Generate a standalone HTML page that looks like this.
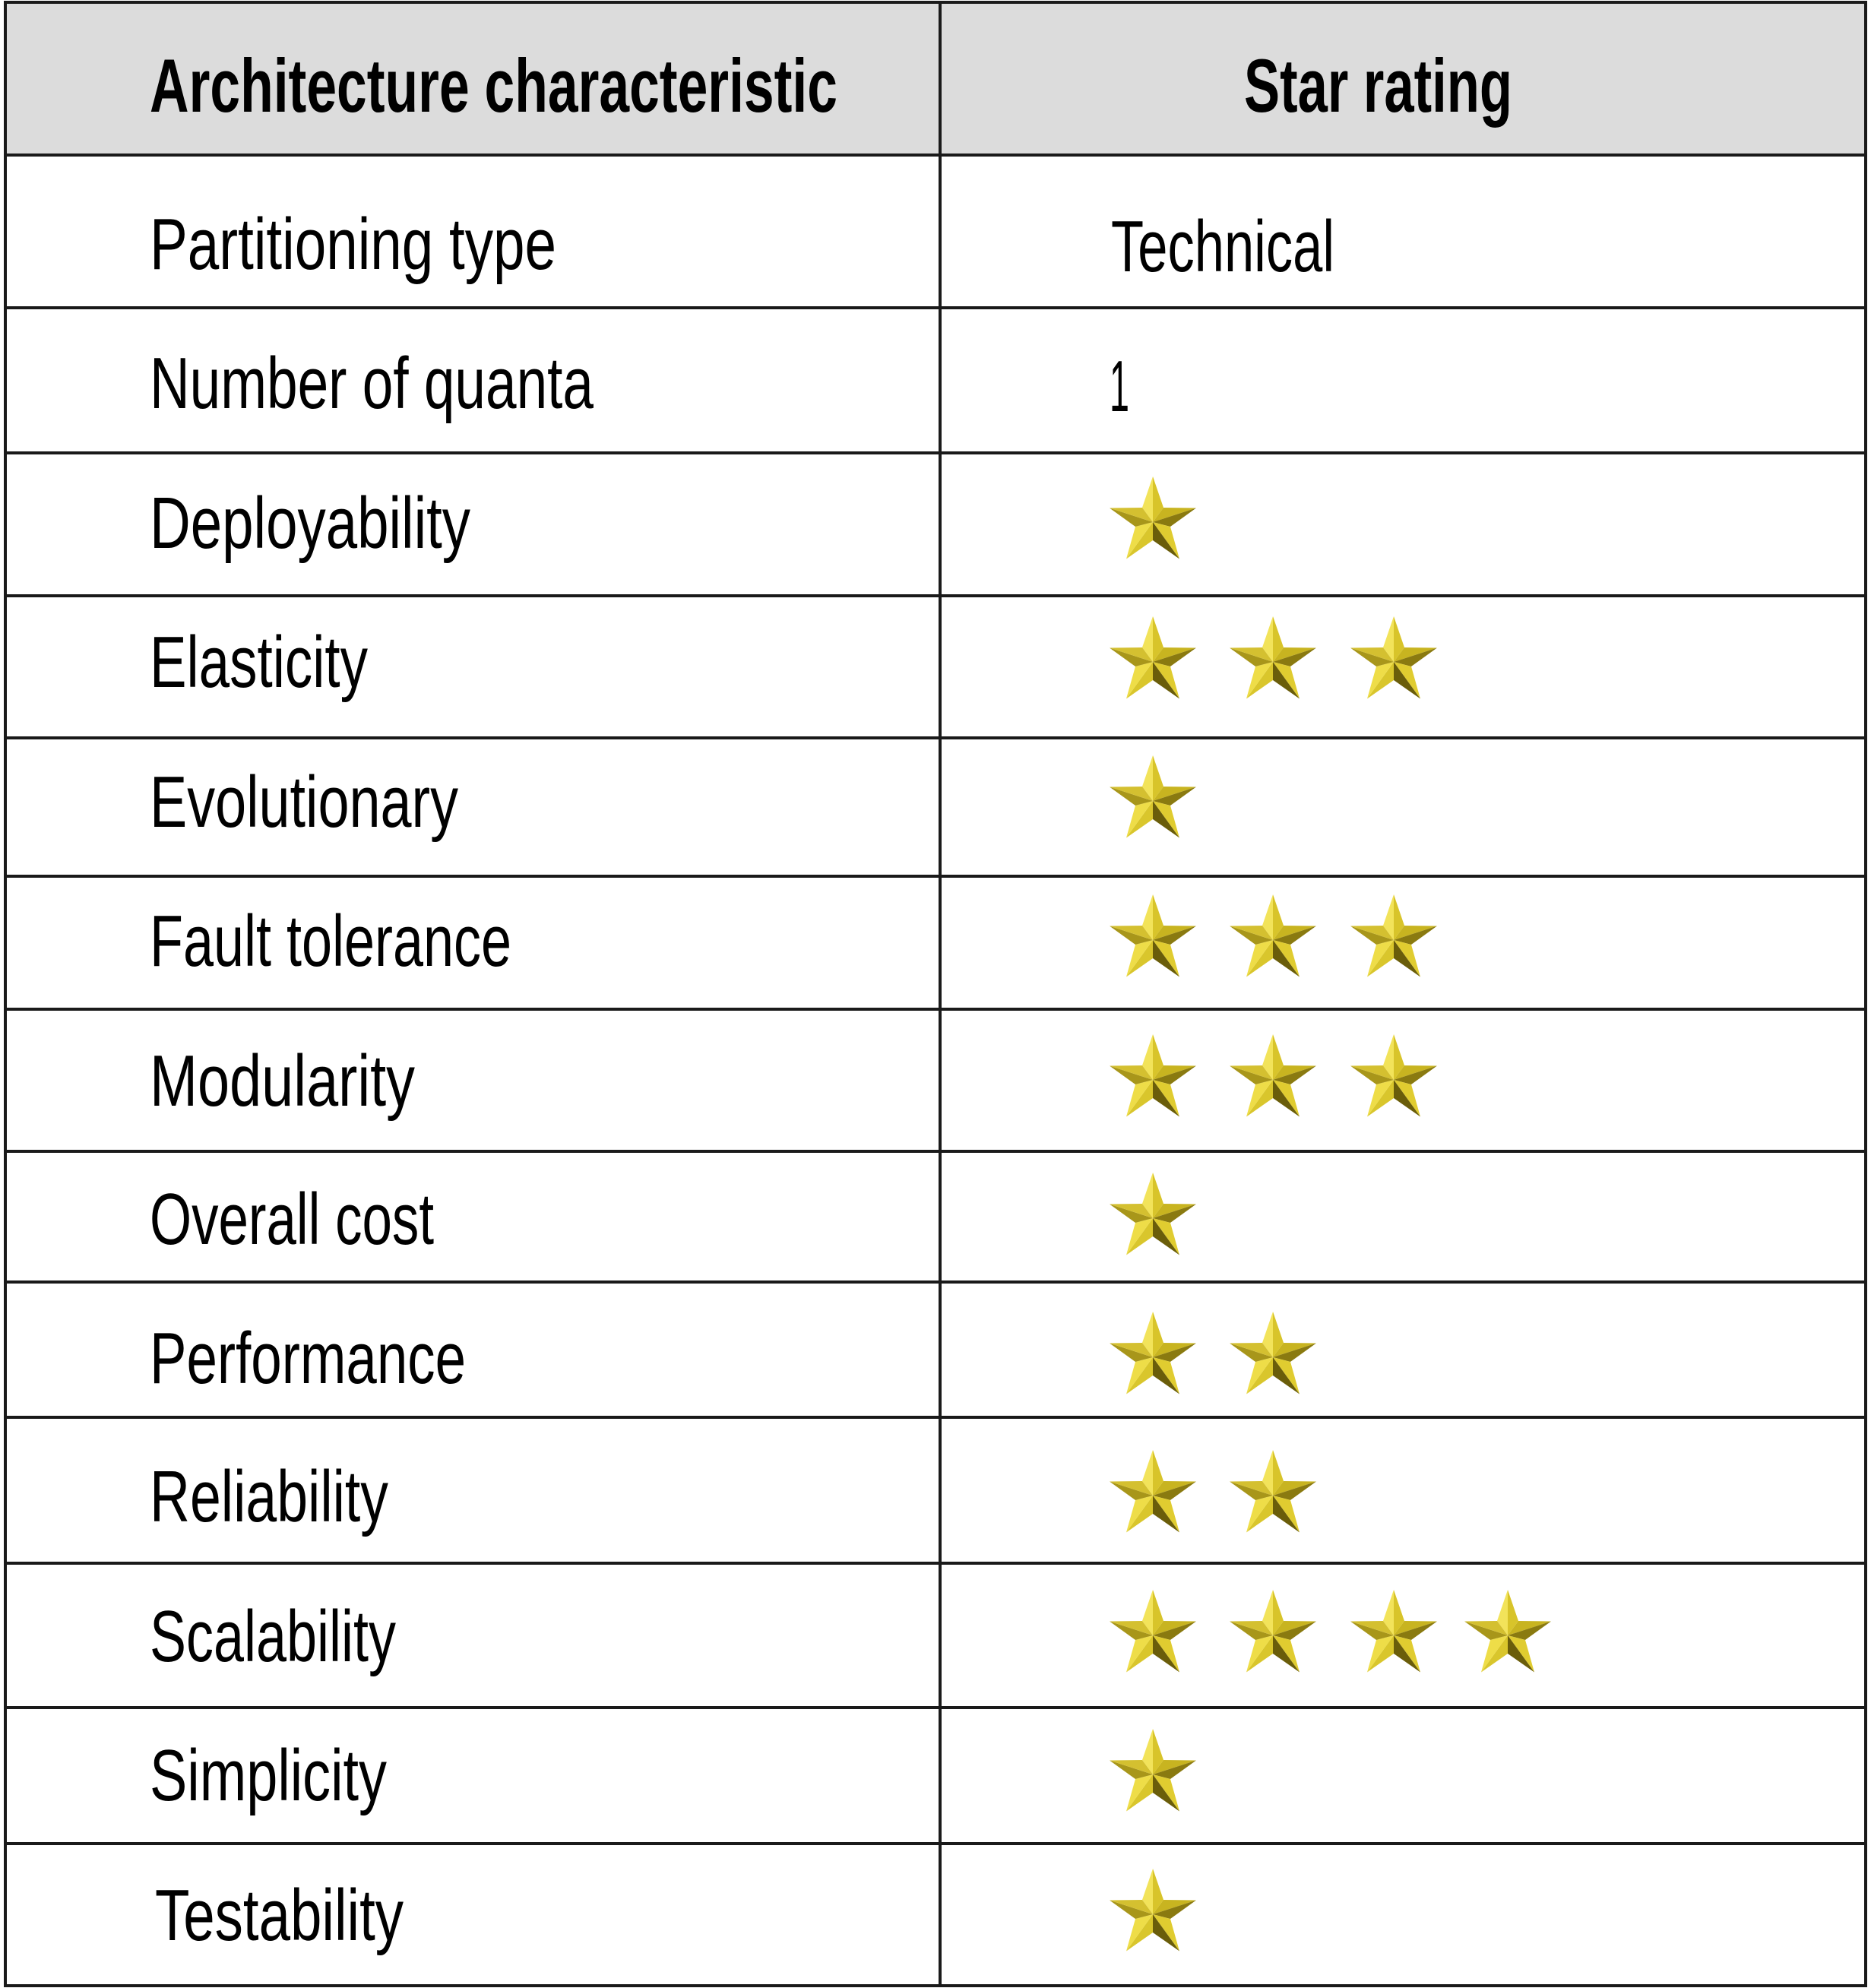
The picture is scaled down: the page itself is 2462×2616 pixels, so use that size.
<!DOCTYPE html>
<html><head><meta charset="utf-8"><style>
html,body{margin:0;padding:0;background:#fff}
svg{display:block}
text{font-family:"Liberation Sans Narrow","Liberation Sans",sans-serif;fill:#000}
</style></head><body>
<svg width="2462" height="2616" viewBox="0 0 2462 2616" xmlns="http://www.w3.org/2000/svg">
<defs>
<g id="star">
<polygon points="0,-60 -14,-19 0,0" fill="#f2e35a"/>
<polygon points="0,-60 14,-19 0,0" fill="#d8c42a"/>
<polygon points="57,-18.5 14,-19 0,0" fill="#c8b420"/>
<polygon points="57,-18.5 23,6 0,0" fill="#8a7a10"/>
<polygon points="35,48.5 23,6 0,0" fill="#e0cc30"/>
<polygon points="35,48.5 0,24 0,0" fill="#6a5d0a"/>
<polygon points="-35,48.5 0,24 0,0" fill="#d9c62c"/>
<polygon points="-35,48.5 -23,6 0,0" fill="#eedd48"/>
<polygon points="-57,-18.5 -23,6 0,0" fill="#a8961a"/>
<polygon points="-57,-18.5 -14,-19 0,0" fill="#d4c030"/>
</g>
</defs>
<rect x="7" y="3" width="2448" height="201" fill="#dcdcdc"/>
<g stroke="#1a1a1a" stroke-width="4" fill="none">
<rect x="7" y="3" width="2448" height="2610"/>
<line x1="1237" y1="3" x2="1237" y2="2613"/>
<line x1="7" y1="204" x2="2455" y2="204"/>
<line x1="7" y1="405" x2="2455" y2="405"/>
<line x1="7" y1="596" x2="2455" y2="596"/>
<line x1="7" y1="784" x2="2455" y2="784"/>
<line x1="7" y1="971" x2="2455" y2="971"/>
<line x1="7" y1="1153" x2="2455" y2="1153"/>
<line x1="7" y1="1328" x2="2455" y2="1328"/>
<line x1="7" y1="1515" x2="2455" y2="1515"/>
<line x1="7" y1="1687" x2="2455" y2="1687"/>
<line x1="7" y1="1865" x2="2455" y2="1865"/>
<line x1="7" y1="2057" x2="2455" y2="2057"/>
<line x1="7" y1="2247" x2="2455" y2="2247"/>
<line x1="7" y1="2426" x2="2455" y2="2426"/>
</g>
<g font-size="99" font-weight="bold">
<text x="197" y="147" textLength="905" lengthAdjust="spacingAndGlyphs">Architecture characteristic</text>
<text x="1637" y="147" textLength="353" lengthAdjust="spacingAndGlyphs">Star rating</text>
</g>
<g font-size="96">
<text x="197" y="354" textLength="535" lengthAdjust="spacingAndGlyphs">Partitioning type</text>
<text x="1462" y="357" textLength="294" lengthAdjust="spacingAndGlyphs">Technical</text>
<text x="197" y="537" textLength="584" lengthAdjust="spacingAndGlyphs">Number of quanta</text>
<text x="1460" y="541" textLength="26" lengthAdjust="spacingAndGlyphs">1</text>
<text x="197" y="721" textLength="422" lengthAdjust="spacingAndGlyphs">Deployability</text>
<text x="197" y="904" textLength="287" lengthAdjust="spacingAndGlyphs">Elasticity</text>
<text x="197" y="1088" textLength="406" lengthAdjust="spacingAndGlyphs">Evolutionary</text>
<text x="197" y="1271" textLength="476" lengthAdjust="spacingAndGlyphs">Fault tolerance</text>
<text x="197" y="1455" textLength="349" lengthAdjust="spacingAndGlyphs">Modularity</text>
<text x="197" y="1637" textLength="374" lengthAdjust="spacingAndGlyphs">Overall cost</text>
<text x="197" y="1820" textLength="416" lengthAdjust="spacingAndGlyphs">Performance</text>
<text x="197" y="2002" textLength="314" lengthAdjust="spacingAndGlyphs">Reliability</text>
<text x="197" y="2186" textLength="324" lengthAdjust="spacingAndGlyphs">Scalability</text>
<text x="197" y="2369" textLength="312" lengthAdjust="spacingAndGlyphs">Simplicity</text>
<text x="204" y="2553" textLength="327" lengthAdjust="spacingAndGlyphs">Testability</text>
</g>
<use href="#star" x="1517" y="687"/>
<use href="#star" x="1517" y="871"/><use href="#star" x="1675" y="871"/><use href="#star" x="1834" y="871"/>
<use href="#star" x="1517" y="1054"/>
<use href="#star" x="1517" y="1237"/><use href="#star" x="1675" y="1237"/><use href="#star" x="1834" y="1237"/>
<use href="#star" x="1517" y="1421"/><use href="#star" x="1675" y="1421"/><use href="#star" x="1834" y="1421"/>
<use href="#star" x="1517" y="1603"/>
<use href="#star" x="1517" y="1786"/><use href="#star" x="1675" y="1786"/>
<use href="#star" x="1517" y="1968"/><use href="#star" x="1675" y="1968"/>
<use href="#star" x="1517" y="2152"/><use href="#star" x="1675" y="2152"/><use href="#star" x="1834" y="2152"/><use href="#star" x="1984" y="2152"/>
<use href="#star" x="1517" y="2335"/>
<use href="#star" x="1517" y="2519"/>
</svg>
</body></html>
